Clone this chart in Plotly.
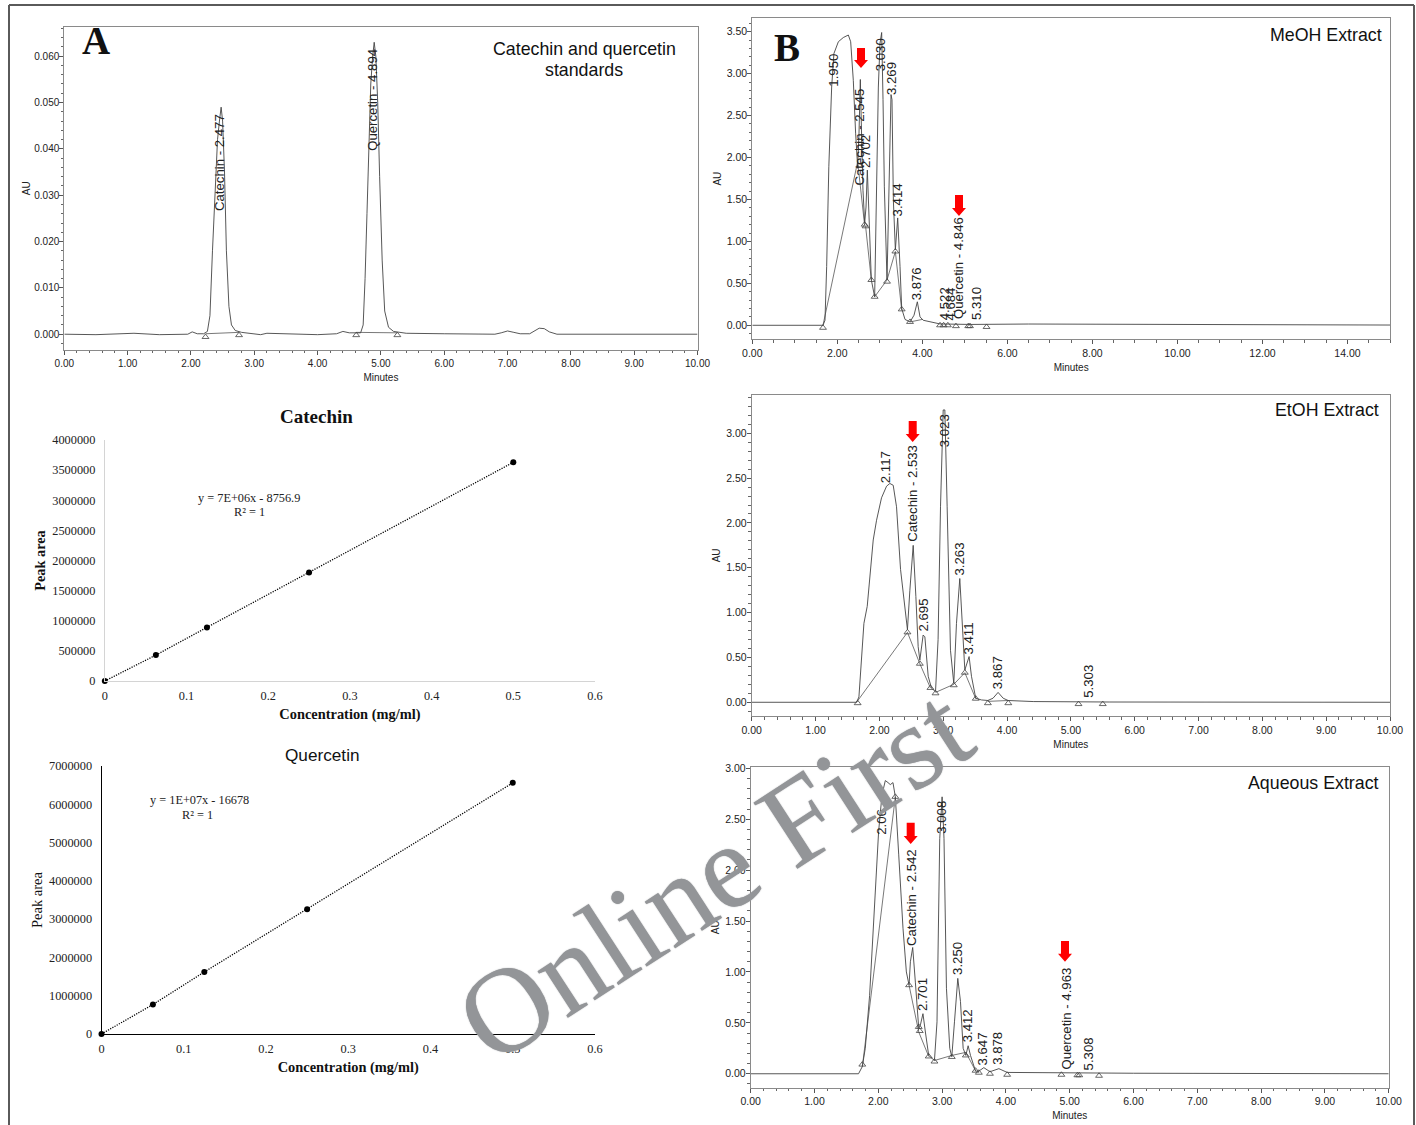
import plotly.graph_objects as go

W, H = 1416, 1125
SANS = "Liberation Sans"
SERIF = "Liberation Serif"

# ---------- Panel A: standards ----------
std_time = [0, 0.5, 1.1, 1.5, 1.95, 2.02, 2.1, 2.2, 2.26, 2.3, 2.34, 2.38, 2.42, 2.45, 2.477, 2.5, 2.53, 2.56, 2.6, 2.64, 2.7, 2.8, 3.0, 3.1, 3.2, 3.6, 4.0, 4.3, 4.4, 4.5, 4.68, 4.72, 4.75, 4.78, 4.81, 4.84, 4.87, 4.894, 4.92, 4.95, 4.98, 5.02, 5.06, 5.12, 5.2, 5.4, 6.0, 6.8, 6.9, 7.0, 7.1, 7.2, 7.35, 7.42, 7.5, 7.58, 7.66, 7.78, 8.5, 10]
std_au = [0, -0.0001, 0.0002, -0.0001, 0, 0.0005, 0.0001, 0.0001, 0.0006, 0.004, 0.018, 0.032, 0.042, 0.046, 0.049, 0.046, 0.035, 0.018, 0.006, 0.002, 0.0008, 0.0004, 0.0001, -0.0001, 0.0002, 0.0001, -0.0001, 0.0001, 0.0006, 0.0003, 0.0003, 0.002, 0.012, 0.026, 0.042, 0.054, 0.060, 0.063, 0.060, 0.050, 0.034, 0.016, 0.005, 0.0015, 0.0006, 0.0002, 0.0001, 0, 0.0003, 0.0007, 0.0004, 0.0001, 0.0001, 0.0006, 0.0013, 0.0012, 0.0005, 0, 0, 0]
std_base_time = [[2.23, 2.76], [4.61, 5.26]]
std_base_au = [[0.0001, 0.0004], [0.0004, 0.0003]]
std_tri_time = [2.23, 2.76, 4.61, 5.26]
std_tri_au = [-0.0006, -0.0002, -0.0002, -0.0002]
std_label_text = ["Catechin - 2.477", "Quercetin - 4.894"]
std_label_time = [2.46, 4.87]
std_label_au = [0.0265, 0.0395]

# ---------- Panel B: MeOH ----------
meoh_time = [0, 1.663, 1.71, 1.749, 1.80, 1.867, 1.92, 2.024, 2.14, 2.259, 2.314, 2.376, 2.43, 2.478, 2.51, 2.541, 2.573, 2.604, 2.643, 2.675, 2.706, 2.737, 2.80, 2.878, 2.925, 2.965, 3.004, 3.043, 3.075, 3.106, 3.169, 3.216, 3.263, 3.286, 3.318, 3.365, 3.42, 3.475, 3.514, 3.592, 3.71, 3.804, 3.882, 3.945, 4.02, 4.416, 5.12, 6.5, 8.0, 10.0, 15.0]
meoh_au = [0, 0, 0.06, 0.70, 1.89, 2.84, 3.24, 3.38, 3.43, 3.46, 3.38, 2.92, 2.29, 1.89, 2.29, 2.93, 2.21, 1.61, 1.22, 1.41, 1.85, 1.33, 0.54, 0.34, 1.49, 2.84, 3.36, 3.49, 2.69, 1.65, 0.54, 1.49, 2.75, 2.69, 1.49, 0.90, 1.28, 0.70, 0.20, 0.07, 0.04, 0.12, 0.28, 0.10, 0.06, 0.016, 0.01, 0.015, 0.012, 0.006, 0.003]
meoh_base_time = [[1.663, 2.478, 2.643], [2.665, 2.80], [2.878, 3.169, 3.365, 3.514], [3.71, 4.0]]
meoh_base_au = [[0, 1.95, 1.19], [1.18, 0.54], [0.34, 0.54, 0.88, 0.18], [0.04, 0.07]]
meoh_tri_time = [1.663, 2.643, 2.665, 2.80, 2.878, 3.169, 3.365, 3.514, 3.71, 4.416, 4.5, 4.6, 4.79, 5.08, 5.12, 5.51]
meoh_tri_au = [-0.03, 1.2, 1.18, 0.54, 0.34, 0.52, 0.88, 0.19, 0.04, 0, 0, 0, -0.01, -0.01, -0.01, -0.02]
meoh_label_text = ["1.950", "Catechin - 2.545", "2.702", "3.030", "3.269", "3.414", "3.876", "4.522", "4.684", "Quercetin - 4.846", "5.310"]
meoh_label_time = [1.92, 2.53, 2.675, 3.02, 3.26, 3.41, 3.867, 4.52, 4.67, 4.85, 5.29]
meoh_label_au = [2.85, 1.67, 1.87, 3.03, 2.75, 1.295, 0.30, 0.06, 0.06, 0.08, 0.06]

# ---------- Panel B: EtOH ----------
etoh_time = [0, 1.643, 1.68, 1.71, 1.758, 1.81, 1.852, 1.904, 1.956, 2.034, 2.113, 2.165, 2.217, 2.269, 2.332, 2.40, 2.44, 2.478, 2.53, 2.572, 2.608, 2.634, 2.686, 2.713, 2.765, 2.817, 2.88, 2.92, 2.958, 3.0, 3.026, 3.062, 3.114, 3.166, 3.208, 3.26, 3.297, 3.339, 3.406, 3.443, 3.51, 3.6, 3.70, 3.78, 3.86, 3.94, 4.017, 4.41, 5.6, 10]
etoh_au = [0, 0, 0.06, 0.43, 0.88, 1.07, 1.40, 1.81, 2.03, 2.28, 2.41, 2.44, 2.42, 2.18, 1.48, 1.10, 0.81, 1.25, 1.75, 1.18, 0.62, 0.47, 0.75, 0.73, 0.29, 0.156, 0.12, 0.70, 2.18, 3.26, 3.26, 2.18, 0.58, 0.21, 0.88, 1.38, 0.955, 0.36, 0.51, 0.29, 0.045, 0.026, 0.02, 0.045, 0.11, 0.045, 0.02, 0.008, 0.003, 0]
etoh_base_time = [[1.643, 2.44, 2.634, 2.80], [2.88, 3.166, 3.339, 3.51], [3.70, 4.017]]
etoh_base_au = [[0, 0.78, 0.43, 0.16], [0.11, 0.2, 0.33, 0.04], [0.01, 0.02]]
etoh_tri_time = [1.66, 2.44, 2.634, 2.80, 2.88, 3.166, 3.339, 3.51, 3.70, 4.02, 5.12, 5.5]
etoh_tri_au = [-0.01, 0.78, 0.43, 0.16, 0.10, 0.19, 0.33, 0.04, -0.01, -0.01, -0.02, -0.02]
etoh_label_text = ["2.117", "Catechin - 2.533", "2.695", "3.023", "3.263", "3.411", "3.867", "5.303"]
etoh_label_time = [2.10, 2.52, 2.686, 3.015, 3.25, 3.40, 3.85, 5.285]
etoh_label_au = [2.44, 1.79, 0.785, 2.84, 1.41, 0.53, 0.145, 0.045]

# ---------- Panel B: Aqueous ----------
aq_time = [0, 1.69, 1.749, 1.796, 1.864, 1.937, 2.005, 2.058, 2.11, 2.152, 2.188, 2.23, 2.267, 2.32, 2.387, 2.44, 2.482, 2.503, 2.539, 2.581, 2.634, 2.66, 2.70, 2.738, 2.79, 2.88, 2.92, 2.963, 3.0, 3.03, 3.068, 3.12, 3.152, 3.194, 3.246, 3.288, 3.33, 3.372, 3.408, 3.445, 3.524, 3.576, 3.654, 3.75, 3.89, 4.02, 4.86, 6.0, 10]
aq_au = [0, 0, 0.07, 0.25, 0.77, 1.66, 2.38, 2.74, 2.88, 2.86, 2.84, 2.86, 2.72, 2.15, 1.43, 1.0, 0.87, 1.10, 1.24, 0.90, 0.445, 0.48, 0.59, 0.41, 0.18, 0.13, 0.51, 2.31, 2.72, 2.31, 0.84, 0.25, 0.167, 0.51, 0.937, 0.71, 0.25, 0.18, 0.275, 0.18, 0.026, 0.026, 0.06, 0.02, 0.05, 0.013, 0.01, 0.005, 0]
aq_base_time = [[1.75, 2.267], [2.482, 2.634, 2.79], [2.88, 3.152, 3.372, 3.524]]
aq_base_au = [[0.07, 2.72], [0.87, 0.41, 0.17], [0.13, 0.18, 0.21, 0.03]]
aq_tri_time = [1.749, 2.267, 2.482, 2.634, 2.65, 2.79, 2.88, 3.152, 3.372, 3.524, 3.576, 3.75, 4.02, 4.87, 5.12, 5.15, 5.46]
aq_tri_au = [0.09, 2.72, 0.87, 0.46, 0.42, 0.17, 0.12, 0.165, 0.18, 0.03, 0.01, 0, -0.01, -0.01, -0.015, -0.015, -0.02]
aq_label_text = ["2.06", "Catechin - 2.542", "2.701", "3.008", "3.250", "3.412", "3.647", "3.878", "Quercetin - 4.963", "5.308"]
aq_label_time = [2.047, 2.53, 2.69, 2.995, 3.24, 3.40, 3.64, 3.864, 4.95, 5.30]
aq_label_au = [2.35, 1.25, 0.615, 2.36, 0.97, 0.31, 0.085, 0.085, 0.036, 0.036]

# ---------- Calibration curves ----------
conc = [0, 0.0625, 0.125, 0.25, 0.5]
catechin_area = [0, 430000, 890000, 1800000, 3630000]
quercetin_area = [0, 770000, 1620000, 3260000, 6560000]


def px(x):
    return x / W


def py(y):
    return 1 - y / H


fig = go.Figure()
layout = {}
annotations = []
shapes = []


def add_chrom(n, box, xr, yr, xdtick, xminor, ydtick, yminor, yfmt, t, au, bt, ba, tt, ta, lt, lx, ly,
              ticksize=10.5, au_standoff=3):
    """n: axis number; box: left, right, top, bottom in pixels of the page."""
    xa, ya = f"x{n}", f"y{n}"
    l, r, top, bot = box
    common = dict(showline=True, linecolor="#8a8a8a", linewidth=1, mirror=True, showgrid=False, zeroline=False,
                  automargin=False, ticks="outside", ticklen=4, tickwidth=1, tickcolor="#555",
                  tickfont=dict(family=SANS, size=ticksize, color="#222"))
    layout[f"xaxis{n}"] = dict(domain=[px(l), px(r)], range=xr, anchor=ya, dtick=xdtick, tick0=0, tickformat=".2f",
                               minor=dict(ticks="outside", dtick=xminor, tick0=0, ticklen=2.5, tickcolor="#666", tickwidth=1),
                               title=dict(text="Minutes", font=dict(family=SANS, size=10, color="#222"), standoff=5.5), **common)
    layout[f"yaxis{n}"] = dict(domain=[py(bot), py(top)], range=yr, anchor=xa, dtick=ydtick, tick0=0, tickformat=yfmt,
                               ticklabelstandoff=-2,
                               minor=dict(ticks="outside", dtick=yminor, tick0=0, ticklen=2.5, tickcolor="#666", tickwidth=1),
                               title=dict(text="AU", font=dict(family=SANS, size=10, color="#222"), standoff=au_standoff), **common)
    for bx, by in zip(bt, ba):
        fig.add_trace(go.Scatter(x=bx, y=by, mode="lines", xaxis=xa, yaxis=ya, showlegend=False,
                                 line=dict(color="#555", width=0.8)))
    fig.add_trace(go.Scatter(x=t, y=au, mode="lines", xaxis=xa, yaxis=ya, showlegend=False,
                             line=dict(color="#444", width=0.9)))
    fig.add_trace(go.Scatter(x=tt, y=ta, mode="markers", xaxis=xa, yaxis=ya, showlegend=False,
                             marker=dict(symbol="triangle-up-open", size=6, color="#444", line=dict(width=0.8, color="#444"))))
    for s, x, y in zip(lt, lx, ly):
        annotations.append(dict(text=s, x=x, y=y, xref=xa, yref=ya, showarrow=False, textangle=-90,
                                xanchor="center", yanchor="bottom", borderpad=0, borderwidth=0,
                                font=dict(family=SANS, size=13.2, color="#222")))


def add_cal(n, box, x, y, ymax, ydtick, axiscolor, ytitle, ytitle_bold, title_size, title_standoff):
    xa, ya = f"x{n}", f"y{n}"
    l, r, top, bot = box
    fig.add_trace(go.Scatter(x=x, y=y, mode="lines+markers", xaxis=xa, yaxis=ya, showlegend=False, cliponaxis=False,
                             line=dict(color="#000", width=1.3, dash="1.2px,1.3px"),
                             marker=dict(color="#000", size=6)))
    layout[f"xaxis{n}"] = dict(domain=[px(l), px(r)], range=[0, 0.6], anchor=ya, dtick=0.1, tick0=0, showgrid=False, zeroline=False,
                               automargin=False, showline=True, linecolor=axiscolor, linewidth=1, ticks="", tickformat="~g",
                               ticklabelstandoff=3,
                               tickfont=dict(family=SERIF, size=12.3, color="#222"),
                               title=dict(text="<b>Concentration (mg/ml)</b>", font=dict(family=SERIF, size=14.4, color="#111"), standoff=7))
    title = f"<b>{ytitle}</b>" if ytitle_bold else ytitle
    layout[f"yaxis{n}"] = dict(domain=[py(bot), py(top)], range=[0, ymax], anchor=xa, dtick=ydtick, tick0=0, showgrid=False, zeroline=False,
                               automargin=False, showline=True, linecolor=axiscolor, linewidth=1, ticks="", tickformat="d",
                               ticklabelstandoff=6,
                               tickfont=dict(family=SERIF, size=12.3, color="#222"),
                               title=dict(text=title, font=dict(family=SERIF, size=title_size, color="#111"), standoff=title_standoff))


def page_text(s, x, y, family, size, xanchor="center", color="#111", angle=0):
    annotations.append(dict(text=s, x=px(x), y=py(y), xref="paper", yref="paper", showarrow=False, align="center",
                            xanchor=xanchor, yanchor="middle", textangle=angle,
                            font=dict(family=family, size=size, color=color)))


def red_arrow(cx, top, bottom):
    neck = bottom - 8
    pts = [(cx - 4, top), (cx + 4, top), (cx + 4, neck), (cx + 7, neck), (cx, bottom), (cx - 7, neck), (cx - 4, neck)]
    path = "M " + " L ".join(f"{px(a):.5f},{py(b):.5f}" for a, b in pts) + " Z"
    shapes.append(dict(type="path", path=path, xref="paper", yref="paper", fillcolor="#ff0000", line=dict(width=0)))


add_chrom(1, (64.3, 697.5, 27, 349.5), [0, 10], [-0.0033, 0.0663], 1, 0.2, 0.01, 0.002, ".3f",
          std_time, std_au, std_base_time, std_base_au, std_tri_time, std_tri_au,
          std_label_text, std_label_time, std_label_au, ticksize=10, au_standoff=1)
add_chrom(2, (752.3, 1390, 18, 339.3), [0, 15], [-0.167, 3.663], 2, 0.5, 0.5, 0.1, ".2f",
          meoh_time, meoh_au, meoh_base_time, meoh_base_au, meoh_tri_time, meoh_tri_au,
          meoh_label_text, meoh_label_time, meoh_label_au)
add_chrom(3, (751.7, 1390, 394.7, 716), [0, 10], [-0.153, 3.43], 1, 0.2, 0.5, 0.1, ".2f",
          etoh_time, etoh_au, etoh_base_time, etoh_base_au, etoh_tri_time, etoh_tri_au,
          etoh_label_text, etoh_label_time, etoh_label_au)
add_chrom(4, (750.7, 1388.7, 766.7, 1087.7), [0, 10], [-0.137, 3.016], 1, 0.2, 0.5, 0.1, ".2f",
          aq_time, aq_au, aq_base_time, aq_base_au, aq_tri_time, aq_tri_au,
          aq_label_text, aq_label_time, aq_label_au)
add_cal(5, (104.8, 595, 440, 681), conc, catechin_area, 4000000, 500000, "#d4d4d4", "Peak area", True, 14.3, 3)
add_cal(6, (101.5, 595, 766, 1034), conc, quercetin_area, 7000000, 1000000, "#000000", "Peak area", False, 14.5, 2)

page_text("<b>A</b>", 96, 40, SERIF, 39)
page_text("<b>B</b>", 787, 47, SERIF, 39)
page_text("Catechin and quercetin", 584, 49, SANS, 17.8)
page_text("standards", 584, 70, SANS, 17.8)
page_text("MeOH Extract", 1384, 35, SANS, 17.8, xanchor="right")
page_text("EtOH Extract", 1381, 410, SANS, 17.8, xanchor="right")
page_text("Aqueous Extract", 1381, 783, SANS, 17.8, xanchor="right")
page_text("<b>Catechin</b>", 316, 416.5, SERIF, 19)
page_text("Quercetin", 322, 755, SANS, 17.2)
page_text("y = 7E+06x - 8756.9", 249, 498, SERIF, 12.3, color="#222")
page_text("R² = 1", 249, 512.5, SERIF, 12.3, color="#222")
page_text("y = 1E+07x - 16678", 199, 800, SERIF, 12.3, color="#222")
page_text("R² = 1", 198, 814.5, SERIF, 12.3, color="#222")

for cx, a, b in [(861, 48, 68), (959, 195, 216), (912.7, 421, 442), (910.7, 822.7, 844), (1065, 941, 961.7)]:
    red_arrow(cx, a, b)

# page frame
for x0, y0, x1, y1 in [(9, 5, 1414, 5), (9, 5, 9, 1125), (1414, 5, 1414, 1125)]:
    shapes.append(dict(type="line", x0=px(x0), y0=py(y0), x1=px(x1), y1=py(y1), xref="paper", yref="paper",
                       line=dict(color="#5a5a5a", width=2)))

# watermark
annotations.append(dict(text="Online First", x=px(714), y=py(874), xref="paper", yref="paper", showarrow=False,
                        textangle=-33, xanchor="center", yanchor="middle",
                        font=dict(family=SERIF, size=121, color="#939598", shadow="0 0 1.2px #939598")))

fig.update_layout(width=W, height=H, margin=dict(l=0, r=0, t=0, b=0), paper_bgcolor="white", plot_bgcolor="white",
                  annotations=annotations, shapes=shapes, showlegend=False, **layout)
fig.write_html("out.html", config={"displayModeBar": False}, post_script="document.body.style.margin='0';")
